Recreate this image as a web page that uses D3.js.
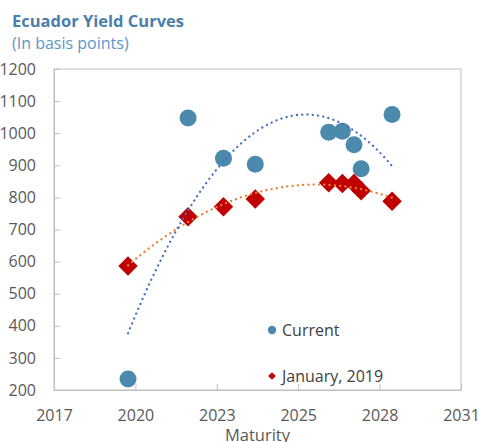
<!DOCTYPE html>
<html>
<head>
<meta charset="utf-8">
<script src="https://cdn.jsdelivr.net/npm/d3@7"></script>
<style>
  body { margin: 0; background: #fff; }
  svg { display: block; font-family: "Open Sans", "Noto Sans", sans-serif; }
</style>
</head>
<body>
<div id="chart"></div>
<script>
// Ecuador yield curves (basis points) by bond maturity

const maturities = [2020.09, 2022.11, 2023.30, 2024.37, 2026.84, 2027.30, 2027.69, 2027.93, 2028.97];
const currentYield = [234, 1047, 922, 903, 1003, 1006, 964, 889, 1058];
const jan2019Yield = [586, 740, 771, 795, 846, 843, 843, 821, 788];

const xTickLabels = ['2017', '2020', '2023', '2025', '2028', '2031'];
const yTicks = [200, 300, 400, 500, 600, 700, 800, 900, 1000, 1100, 1200];

const W = 479, H = 442;
const plot = { left: 54, right: 461, top: 69, bottom: 390 };

// Excel date axis: major unit of 1000 days
const xStart = 2017.6, xStep = 1000 / 365.25;
const xTickVals = xTickLabels.map((d, i) => xStart + i * xStep);

const svg = d3.select('#chart').append('svg')
    .attr('width', W)
    .attr('height', H);

const x = d3.scaleLinear()
    .domain([xStart, xStart + 5 * xStep])
    .range([plot.left, plot.right]);

const y = d3.scaleLinear()
    .domain([200, 1200])
    .range([plot.bottom, plot.top]);

// Title
svg.append('text')
    .attr('x', 12).attr('y', 27)
    .style('font-size', '16.5px')
    .style('font-weight', '700')
    .style('fill', '#4a7fab')
    .text('Ecuador Yield Curves');

svg.append('text')
    .attr('x', 12).attr('y', 49)
    .style('font-size', '16px')
    .style('fill', '#5b96c8')
    .text('(In basis points)');

// Plot frame
svg.append('rect')
    .attr('x', plot.left).attr('y', plot.top)
    .attr('width', plot.right - plot.left)
    .attr('height', plot.bottom - plot.top)
    .attr('fill', 'none')
    .attr('stroke', '#bfbfbf')
    .attr('stroke-width', 1);

// Axes
const yAxis = svg.append('g')
    .attr('transform', `translate(${plot.left},0)`)
    .call(d3.axisLeft(y).tickValues(yTicks).tickSize(-6).tickPadding(18)
        .tickFormat(d3.format('d')));

const xAxis = svg.append('g')
    .attr('transform', `translate(0,${plot.bottom})`)
    .call(d3.axisBottom(x).tickValues(xTickVals).tickSize(-6).tickPadding(20)
        .tickFormat((d, i) => xTickLabels[i]));

[yAxis, xAxis].forEach(g => {
    g.select('.domain').attr('stroke', '#bfbfbf');
    g.selectAll('.tick line').attr('stroke', '#bfbfbf');
    g.selectAll('.tick text')
        .style('font-family', '"Open Sans", "Noto Sans", sans-serif')
        .style('font-size', '16px')
        .style('fill', '#595959');
});
xAxis.selectAll('.tick text').attr('dy', '0.71em');

svg.append('text')
    .attr('x', (plot.left + plot.right) / 2)
    .attr('y', 441)
    .attr('text-anchor', 'middle')
    .style('font-size', '16.5px')
    .style('fill', '#595959')
    .text('Maturity');

// Markers
const circleColor = '#4b8aad';
const diamondColor = '#c00000';

svg.append('g').selectAll('circle')
    .data(maturities)
    .join('circle')
    .attr('cx', d => x(d))
    .attr('cy', (d, i) => y(currentYield[i]))
    .attr('r', 8.5)
    .attr('fill', circleColor);

const diamond = d3.symbol().type(d3.symbolSquare).size(190);
svg.append('g').selectAll('path')
    .data(maturities)
    .join('path')
    .attr('d', diamond)
    .attr('transform', (d, i) => `translate(${x(d)},${y(jan2019Yield[i])}) rotate(45)`)
    .attr('fill', diamondColor);

// Polynomial (order 2) trendlines, least squares fit like Excel
const quadFit = (xs, ys) => {
    const mx = d3.mean(xs);
    const u = xs.map(v => v - mx);
    const s = k => d3.sum(u, v => Math.pow(v, k));
    const t = k => d3.sum(u, (v, i) => Math.pow(v, k) * ys[i]);
    const n = xs.length;
    const A = [[n, s(1), s(2)], [s(1), s(2), s(3)], [s(2), s(3), s(4)]];
    const b = [t(0), t(1), t(2)];
    // Gaussian elimination
    for (let i = 0; i < 3; i++) {
        for (let j = i + 1; j < 3; j++) {
            const f = A[j][i] / A[i][i];
            for (let k = i; k < 3; k++) A[j][k] -= f * A[i][k];
            b[j] -= f * b[i];
        }
    }
    const c = [0, 0, 0];
    for (let i = 2; i >= 0; i--) {
        let acc = b[i];
        for (let k = i + 1; k < 3; k++) acc -= A[i][k] * c[k];
        c[i] = acc / A[i][i];
    }
    return v => c[0] + c[1] * (v - mx) + c[2] * (v - mx) * (v - mx);
};

const trendLine = (ys, color) => {
    const f = quadFit(maturities, ys);
    const x0 = d3.min(maturities), x1 = d3.max(maturities);
    const pts = d3.range(0, 101).map(k => x0 + (x1 - x0) * k / 100);
    svg.append('path')
        .datum(pts)
        .attr('d', d3.line().x(d => x(d)).y(d => y(f(d))))
        .attr('fill', 'none')
        .attr('stroke', color)
        .attr('stroke-width', 2.3)
        .attr('stroke-linecap', 'round')
        .attr('stroke-dasharray', '0.1,5.2');
};

trendLine(jan2019Yield, '#ed7d31');
trendLine(currentYield, '#4472c4');

// Legend
const legend = svg.append('g');
legend.append('circle')
    .attr('cx', 272).attr('cy', 330).attr('r', 4.2)
    .attr('fill', circleColor);
legend.append('text')
    .attr('x', 282).attr('y', 335.5)
    .style('font-size', '16px')
    .style('fill', '#404040')
    .text('Current');

legend.append('path')
    .attr('d', d3.symbol().type(d3.symbolSquare).size(30))
    .attr('transform', 'translate(272,376) rotate(45)')
    .attr('fill', diamondColor);
legend.append('text')
    .attr('x', 282).attr('y', 381.5)
    .style('font-size', '16px')
    .style('fill', '#404040')
    .text('January, 2019');
</script>
</body>
</html>
